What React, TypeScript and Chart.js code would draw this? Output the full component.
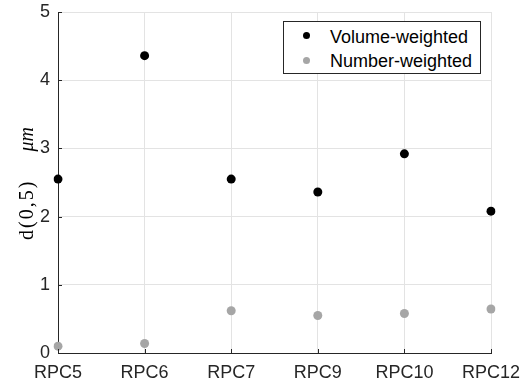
import React, { useEffect, useRef } from "react";
import { Chart, registerables } from "chart.js";

Chart.register(...registerables);

const categories = ["RPC5", "RPC6", "RPC7", "RPC9", "RPC10", "RPC12"];
const volumeWeighted = [2.55, 4.36, 2.55, 2.36, 2.92, 2.08];
const numberWeighted = [0.1, 0.14, 0.62, 0.55, 0.58, 0.645];
const yTicks = [0, 1, 2, 3, 4, 5];
const seriesLabels = ["Volume-weighted", "Number-weighted"];
const seriesColors = ["#000000", "#a6a6a6"];

const AXIS = "#262626";
const SANS = "'Liberation Sans', Arial, Helvetica, sans-serif";
const SERIF = "'Liberation Serif', 'Times New Roman', serif";

const inwardTicks = {
  id: "inwardTicks",
  afterDraw(chart: any) {
    const { ctx, chartArea, scales } = chart;
    ctx.save();
    ctx.strokeStyle = AXIS;
    ctx.lineWidth = 1;
    const x = scales.x;
    const y = scales.y;
    x.ticks.forEach((_t: any, i: number) => {
      const px = Math.round(x.getPixelForTick(i)) + 0.5;
      ctx.beginPath();
      ctx.moveTo(px, chartArea.bottom);
      ctx.lineTo(px, chartArea.bottom - 4);
      ctx.stroke();
    });
    y.ticks.forEach((_t: any, i: number) => {
      const py = Math.round(y.getPixelForTick(i)) + 0.5;
      ctx.beginPath();
      ctx.moveTo(chartArea.left, py);
      ctx.lineTo(chartArea.left + 4, py);
      ctx.stroke();
    });
    ctx.restore();
  },
};

const yTitle = {
  id: "yTitle",
  afterDraw(chart: any) {
    const { ctx } = chart;
    ctx.save();
    ctx.fillStyle = "#000";
    ctx.textBaseline = "alphabetic";
    ctx.textAlign = "left";
    const part1 = "d(0,5)";
    const part2 = "\u03bcm";
    const startY = 240;
    const endY = 127;
    ctx.font = "italic 20px " + SERIF;
    (ctx as any).letterSpacing = "0px";
    const w2 = ctx.measureText(part2).width;
    const total = startY - endY;
    ctx.translate(33, startY);
    ctx.rotate(-Math.PI / 2);
    ctx.font = "20px " + SERIF;
    (ctx as any).letterSpacing = "2px";
    ctx.fillText(part1, 0, 0);
    ctx.font = "italic 20px " + SERIF;
    (ctx as any).letterSpacing = "0px";
    ctx.fillText(part2, total - w2, 0);
    ctx.restore();
  },
};

export default function App() {
  const canvasRef = useRef<HTMLCanvasElement | null>(null);

  useEffect(() => {
    document.body.style.margin = "0";
    const canvas = canvasRef.current;
    if (!canvas) return;
    const chart = new Chart(canvas, {
      type: "line",
      data: {
        labels: categories,
        datasets: [
          {
            label: seriesLabels[0],
            data: volumeWeighted,
            showLine: false,
            pointRadius: 4.5,
            pointHoverRadius: 4.5,
            pointBackgroundColor: seriesColors[0],
            pointBorderColor: seriesColors[0],
            pointBorderWidth: 0,
            borderColor: seriesColors[0],
            backgroundColor: seriesColors[0],
          },
          {
            label: seriesLabels[1],
            data: numberWeighted,
            showLine: false,
            pointRadius: 4.5,
            pointHoverRadius: 4.5,
            pointBackgroundColor: seriesColors[1],
            pointBorderColor: seriesColors[1],
            pointBorderWidth: 0,
            borderColor: seriesColors[1],
            backgroundColor: seriesColors[1],
          },
        ],
      },
      options: {
        animation: false,
        responsive: false,
        devicePixelRatio: 1,
        layout: { autoPadding: false, padding: { top: 12, right: 31, bottom: 0, left: 0 } },
        plugins: {
          legend: { display: false },
          tooltip: { enabled: false },
          title: { display: false },
        },
        scales: {
          x: {
            type: "category",
            offset: false,
            grid: { color: "#e3e3e3", drawTicks: false, lineWidth: 1 },
            border: { color: AXIS, width: 1 },
            ticks: {
              color: AXIS,
              font: { family: SANS, size: 18 },
              padding: 9,
              maxRotation: 0,
              autoSkip: false,
            },
            afterFit(s: any) {
              s.height = 34;
              s.paddingLeft = 0;
              s.paddingRight = 0;
            },
          },
          y: {
            min: 0,
            max: 5,
            afterBuildTicks(s: any) {
              s.ticks = yTicks.map((v) => ({ value: v }));
            },
            grid: { color: "#e3e3e3", drawTicks: false, lineWidth: 1 },
            border: { color: AXIS, width: 1 },
            ticks: {
              color: AXIS,
              font: { family: SANS, size: 18 },
              padding: 8,
            },
            afterFit(s: any) {
              s.width = 58;
              s.paddingTop = 0;
              s.paddingBottom = 0;
            },
          },
        },
      } as any,
      plugins: [inwardTicks, yTitle],
    });
    return () => chart.destroy();
  }, []);

  return (
    <div style={{ position: "relative", width: 522, height: 387 }}>
      <canvas ref={canvasRef} width={522} height={387} style={{ display: "block", width: 522, height: 387 }} />
      <div
        style={{
          position: "absolute",
          left: 283,
          top: 21,
          width: 198,
          height: 53,
          boxSizing: "border-box",
          border: "1px solid " + AXIS,
          background: "#fff",
          fontFamily: SANS,
          fontSize: 18,
          color: "#000",
        }}
      >
        {seriesLabels.map((lab, i) => {
          const cy = i === 0 ? 13.3 : 38.7;
          const textTop = i === 0 ? 5.5 : 30.2;
          return (
            <React.Fragment key={lab}>
              <div
                style={{
                  position: "absolute",
                  left: 22.7 - 3.5,
                  top: cy - 3.5,
                  width: 7,
                  height: 7,
                  borderRadius: "50%",
                  background: seriesColors[i],
                }}
              />
              <div
                style={{
                  position: "absolute",
                  left: 46,
                  top: textTop,
                  height: 18,
                  lineHeight: "18px",
                  whiteSpace: "nowrap",
                }}
              >
                {lab}
              </div>
            </React.Fragment>
          );
        })}
      </div>
    </div>
  );
}
